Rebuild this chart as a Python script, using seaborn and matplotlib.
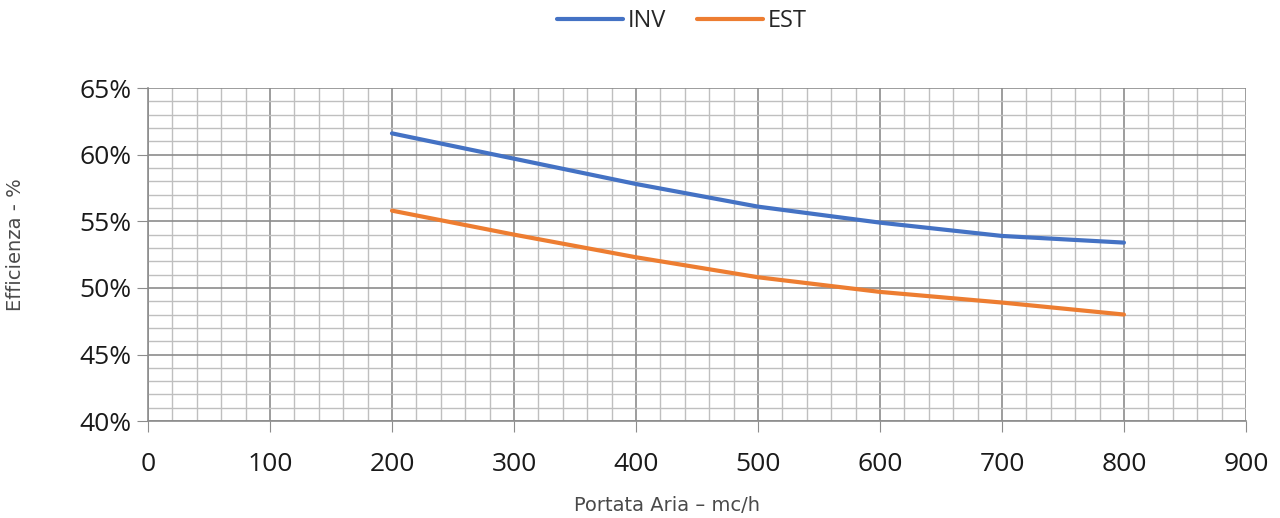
import numpy as np
import pandas as pd
import matplotlib
matplotlib.use("Agg")
import matplotlib.pyplot as plt
import seaborn as sns
from matplotlib.ticker import MultipleLocator, FuncFormatter

# dati
portata = [200, 300, 400, 500, 600, 700, 800]
inv = [61.6, 59.7, 57.8, 56.1, 54.9, 53.9, 53.4]
est = [55.8, 54.0, 52.3, 50.8, 49.7, 48.9, 48.0]

df = pd.DataFrame({"Portata": portata * 2,
                   "Efficienza": inv + est,
                   "Serie": ["INV"] * len(inv) + ["EST"] * len(est)})

sns.set_style("white")
plt.rcParams['font.family'] = ['Open Sans', 'DejaVu Sans']

fig = plt.figure(figsize=(12.8, 5.18), dpi=100)
ax = fig.add_axes([0.1156, 0.187, 0.8578, 0.643])

sns.lineplot(data=df, x="Portata", y="Efficienza", hue="Serie",
             palette={"INV": "#4472C4", "EST": "#ED7D31"},
             linewidth=3, ax=ax, zorder=3)

ax.set_xlim(0, 900)
ax.set_ylim(40, 65)
ax.xaxis.set_major_locator(MultipleLocator(100))
ax.xaxis.set_minor_locator(MultipleLocator(20))
ax.yaxis.set_major_locator(MultipleLocator(5))
ax.yaxis.set_minor_locator(MultipleLocator(1))
ax.yaxis.set_major_formatter(FuncFormatter(lambda v, p: f"{v:.0f}%"))

ax.grid(which="major", color="#8c8c8c", linewidth=1.2)
ax.grid(which="minor", color="#bfbfbf", linewidth=1.0)
ax.set_axisbelow(True)

for s in ["top", "right"]:
    ax.spines[s].set_visible(False)
for s in ["left", "bottom"]:
    ax.spines[s].set_color("#8c8c8c")
    ax.spines[s].set_linewidth(1.2)

ax.tick_params(axis="both", which="major", length=8, color="#8c8c8c",
               labelsize=19, labelcolor="#1a1a1a", direction="out")
ax.tick_params(axis="both", which="minor", length=0)
ax.tick_params(axis="x", pad=14)
ax.tick_params(axis="y", pad=4)
ax.tick_params(bottom=True, left=True)

ax.set_xlabel("Portata Aria – mc/h", fontsize=14, color="#4a4a4a",
              fontfamily="DejaVu Sans")
ax.set_ylabel("Efficienza - %", fontsize=14, color="#4a4a4a",
              fontfamily="DejaVu Sans")
ax.xaxis.set_label_coords(0.473, -0.225)
ax.yaxis.set_label_coords(-0.112, 0.53)

handles, labels = ax.get_legend_handles_labels()
order = [labels.index("INV"), labels.index("EST")]
ax.legend([handles[i] for i in order], [labels[i] for i in order],
          loc="upper center", bbox_to_anchor=(0.486, 1.30), ncol=2,
          frameon=False, fontsize=17, handlelength=2.8, handletextpad=0.2,
          columnspacing=1.3)

fig.savefig("out.png", dpi=100)
